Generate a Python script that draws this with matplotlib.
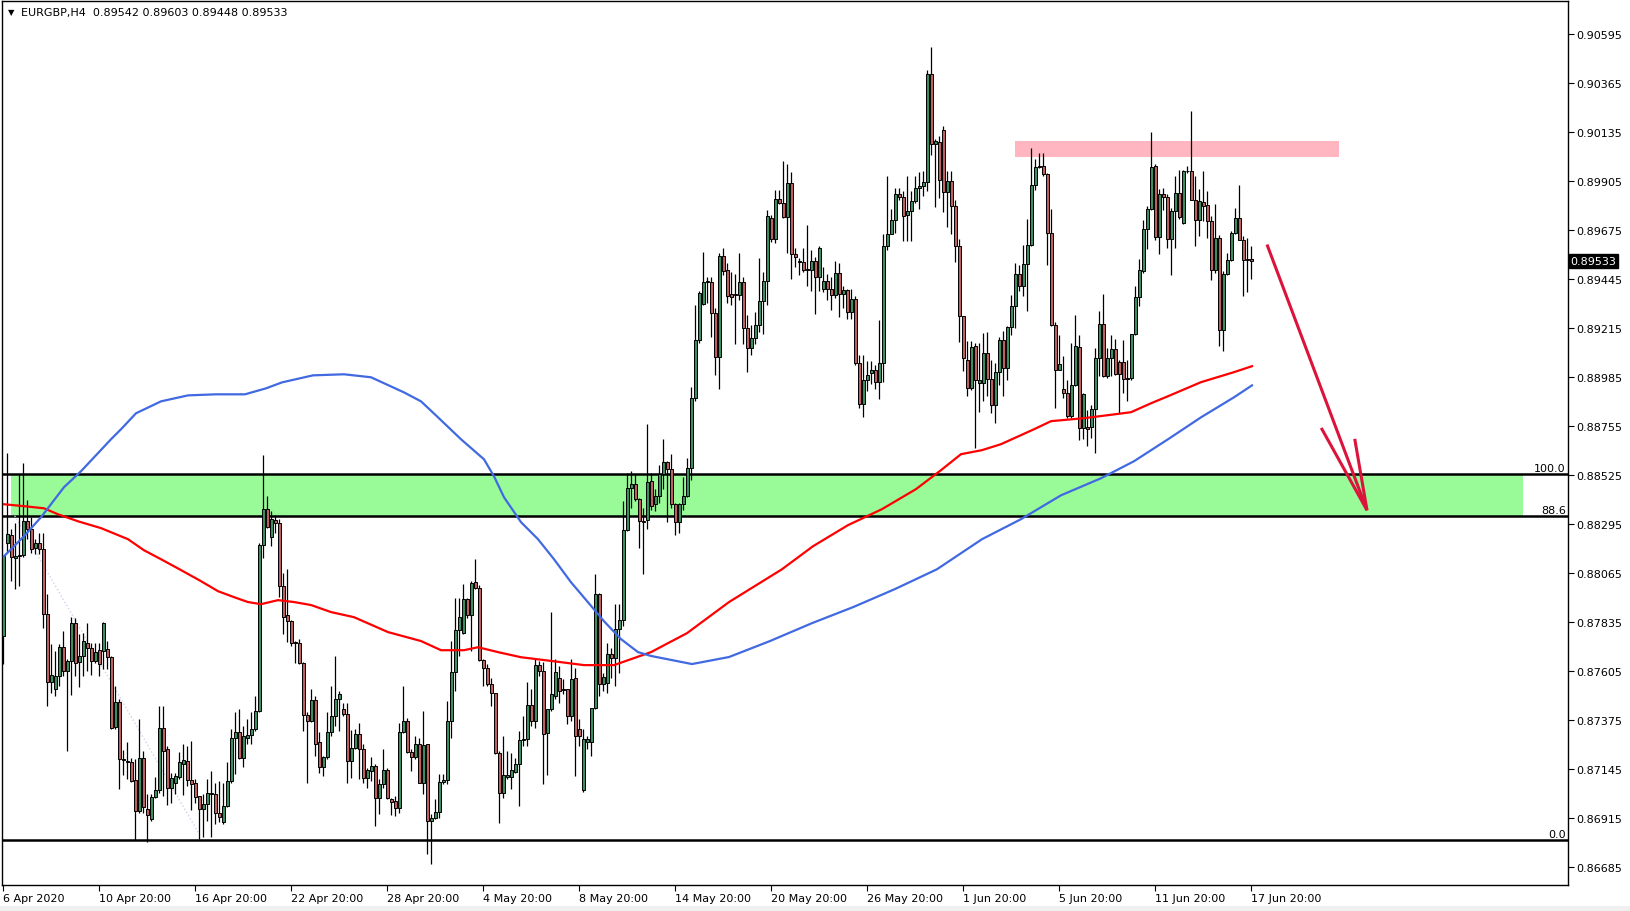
import numpy as np
import matplotlib
matplotlib.use('Agg')
import matplotlib.pyplot as plt
import matplotlib.transforms as mtrans
from matplotlib.patches import Rectangle

# EURGBP H4 bars, 6 Apr 2020 20:00 .. 17 Jun 2020 20:00
opens = [
    0.87771, 0.88205, 0.88244, 0.88139, 0.88145, 0.88150, 0.88309, 0.88272, 0.88186, 0.88205,
    0.88181, 0.87873, 0.87556, 0.87521, 0.87581, 0.87721, 0.87607, 0.87651, 0.87834, 0.87649,
    0.87678, 0.87740, 0.87712, 0.87654, 0.87706, 0.87700, 0.87709, 0.87670, 0.87344, 0.87462,
    0.87193, 0.87182, 0.87177, 0.87094, 0.86947, 0.87196, 0.86961, 0.86911, 0.87013, 0.87047,
    0.87341, 0.87240, 0.87055, 0.87083, 0.87110, 0.87169, 0.87185, 0.87094, 0.87083, 0.87021,
    0.86961, 0.86982, 0.87036, 0.87028, 0.86938, 0.86900, 0.86974, 0.87091, 0.87294, 0.87318,
    0.87196, 0.87294, 0.87305, 0.87333, 0.87419, 0.88197, 0.88369, 0.88237, 0.88314, 0.88303,
    0.88003, 0.87868, 0.87842, 0.87743, 0.87740, 0.87646, 0.87399, 0.87372, 0.87471, 0.87271,
    0.87154, 0.87201, 0.87320, 0.87395, 0.87477, 0.87430, 0.87406, 0.87184, 0.87247, 0.87309,
    0.87239, 0.87106, 0.87138, 0.87161, 0.87012, 0.87075, 0.87141, 0.87004, 0.86998, 0.86965,
    0.87322, 0.87372, 0.87227, 0.87205, 0.87266, 0.87083, 0.87263, 0.86903, 0.86918, 0.86945,
    0.87087, 0.87095, 0.87372, 0.87603, 0.87797, 0.87786, 0.87946, 0.87869, 0.88024, 0.87998,
    0.87657, 0.87619, 0.87544, 0.87502, 0.87223, 0.87036, 0.87111, 0.87111, 0.87133, 0.87169,
    0.87283, 0.87286, 0.87445, 0.87372, 0.87633, 0.87607, 0.87317, 0.87427, 0.87489, 0.87575,
    0.87517, 0.87524, 0.87395, 0.87575, 0.87333, 0.87048, 0.87273, 0.87273, 0.87435, 0.87966,
    0.87544, 0.87552, 0.87688, 0.87669, 0.87802, 0.87844, 0.88267, 0.88464, 0.88486, 0.88412,
    0.88310, 0.88313, 0.88498, 0.88392, 0.88429, 0.88529, 0.88585, 0.88555, 0.88392, 0.88308,
    0.88388, 0.88429, 0.88558, 0.88889, 0.89159, 0.89330, 0.89430, 0.89430, 0.89285, 0.89078,
    0.89556, 0.89489, 0.89378, 0.89370, 0.89373, 0.89430, 0.89215, 0.89123, 0.89168, 0.89228,
    0.89341, 0.89438, 0.89734, 0.89632, 0.89821, 0.89805, 0.89737, 0.89898, 0.89564, 0.89532,
    0.89527, 0.89490, 0.89487, 0.89532, 0.89457, 0.89398, 0.89438, 0.89398, 0.89373, 0.89475,
    0.89377, 0.89393, 0.89290, 0.89352, 0.89054, 0.88860, 0.88970, 0.89005, 0.89018, 0.88962,
    0.89050, 0.89603, 0.89659, 0.89724, 0.89845, 0.89829, 0.89745, 0.89764, 0.89810, 0.89874,
    0.89882, 0.89903, 0.90410, 0.90079, 0.90087, 0.90144, 0.89855, 0.89906, 0.89790, 0.89600,
    0.89271, 0.89068, 0.88935, 0.89131, 0.88959, 0.88959, 0.89099, 0.88977, 0.88857, 0.89010,
    0.89159, 0.89029, 0.89220, 0.89318, 0.89472, 0.89415, 0.89517, 0.89608, 0.89889, 0.89972,
    0.89978, 0.89941, 0.89662, 0.89231, 0.89021, 0.88930, 0.88912, 0.88802, 0.88951, 0.89128,
    0.88748, 0.88751, 0.88751, 0.88837, 0.89076, 0.89237, 0.88990, 0.89076, 0.89118, 0.89056,
    0.89056, 0.88977, 0.88982, 0.89189, 0.89362, 0.89482, 0.89681, 0.89775, 0.89975, 0.89642,
    0.89847, 0.89831, 0.89636, 0.89767, 0.89850, 0.89709, 0.89952, 0.89955, 0.89819, 0.89722,
    0.89808, 0.89793, 0.89720, 0.89487, 0.89639, 0.89206, 0.89472, 0.89537, 0.89662, 0.89733,
    0.89631, 0.89534, 0.89542,
]
highs = [
    0.88150, 0.88628, 0.88272, 0.88303, 0.88530, 0.88581, 0.88409, 0.88327, 0.88225, 0.88256,
    0.88256, 0.87967, 0.87733, 0.87700, 0.87732, 0.87795, 0.87662, 0.87860, 0.87854, 0.87780,
    0.87787, 0.87834, 0.87740, 0.87740, 0.87740, 0.87837, 0.87748, 0.87677, 0.87537, 0.87474,
    0.87236, 0.87271, 0.87200, 0.87193, 0.87380, 0.87232, 0.87028, 0.87028, 0.87107, 0.87443,
    0.87443, 0.87255, 0.87130, 0.87130, 0.87224, 0.87263, 0.87255, 0.87279, 0.87099, 0.87021,
    0.87028, 0.87099, 0.87138, 0.87083, 0.87091, 0.87083, 0.87177, 0.87333, 0.87412, 0.87427,
    0.87349, 0.87380, 0.87412, 0.87490, 0.88209, 0.88619, 0.88428, 0.88358, 0.88338, 0.88319,
    0.88068, 0.88084, 0.87845, 0.87748, 0.87756, 0.87650, 0.87412, 0.87521, 0.87490, 0.87318,
    0.87208, 0.87412, 0.87536, 0.87677, 0.87513, 0.87458, 0.87458, 0.87328, 0.87333, 0.87364,
    0.87263, 0.87153, 0.87205, 0.87172, 0.87098, 0.87239, 0.87153, 0.87009, 0.87020, 0.87364,
    0.87536, 0.87388, 0.87239, 0.87302, 0.87294, 0.87419, 0.87263, 0.86934, 0.87004, 0.87122,
    0.87122, 0.87466, 0.87747, 0.87951, 0.87951, 0.88013, 0.87951, 0.88029, 0.88131, 0.88009,
    0.87661, 0.87638, 0.87575, 0.87505, 0.87231, 0.87302, 0.87231, 0.87223, 0.87200, 0.87325,
    0.87395, 0.87555, 0.87520, 0.87661, 0.87653, 0.87649, 0.87430, 0.87883, 0.87661, 0.87630,
    0.87567, 0.87524, 0.87661, 0.87622, 0.87380, 0.87333, 0.87302, 0.87435, 0.88060, 0.87971,
    0.87599, 0.87740, 0.87716, 0.87919, 0.87919, 0.88404, 0.88537, 0.88545, 0.88532, 0.88420,
    0.88373, 0.88764, 0.88534, 0.88461, 0.88574, 0.88695, 0.88590, 0.88627, 0.88396, 0.88396,
    0.88517, 0.88606, 0.88937, 0.89325, 0.89390, 0.89575, 0.89457, 0.89454, 0.89309, 0.89570,
    0.89591, 0.89519, 0.89478, 0.89470, 0.89567, 0.89454, 0.89277, 0.89228, 0.89293, 0.89543,
    0.89478, 0.89769, 0.89745, 0.89866, 0.89866, 0.89998, 0.89987, 0.89947, 0.89591, 0.89543,
    0.89591, 0.89701, 0.89583, 0.89551, 0.89600, 0.89503, 0.89470, 0.89454, 0.89532, 0.89519,
    0.89414, 0.89398, 0.89398, 0.89365, 0.89091, 0.89091, 0.89063, 0.89063, 0.89042, 0.89256,
    0.89659, 0.89931, 0.89777, 0.89871, 0.89874, 0.89858, 0.89931, 0.89858, 0.89931, 0.89947,
    0.89955, 0.90426, 0.90536, 0.90103, 0.90116, 0.90165, 0.89955, 0.89955, 0.89819, 0.89634,
    0.89274, 0.89154, 0.89154, 0.89146, 0.89146, 0.89193, 0.89196, 0.89068, 0.89053, 0.89174,
    0.89201, 0.89225, 0.89373, 0.89522, 0.89514, 0.89608, 0.89728, 0.90061, 0.90010, 0.90038,
    0.90038, 0.89944, 0.89777, 0.89243, 0.89185, 0.89087, 0.88971, 0.89146, 0.89279, 0.89185,
    0.88909, 0.88833, 0.88857, 0.89123, 0.89295, 0.89378, 0.89123, 0.89185, 0.89165, 0.89068,
    0.89162, 0.89068, 0.89190, 0.89415, 0.89540, 0.89725, 0.89788, 0.90136, 0.89988, 0.89869,
    0.89874, 0.89847, 0.89780, 0.89928, 0.89960, 0.89960, 0.89975, 0.90236, 0.89928, 0.89869,
    0.89952, 0.89858, 0.89741, 0.89800, 0.89655, 0.89483, 0.89569, 0.89670, 0.89780, 0.89889,
    0.89647, 0.89639, 0.89603,
]
lows = [
    0.87638, 0.88162, 0.88029, 0.87993, 0.88006, 0.88140, 0.88225, 0.88159, 0.88155, 0.88155,
    0.87806, 0.87443, 0.87505, 0.87490, 0.87537, 0.87584, 0.87232, 0.87494, 0.87581, 0.87529,
    0.87581, 0.87607, 0.87588, 0.87646, 0.87584, 0.87615, 0.87615, 0.87333, 0.87333, 0.87052,
    0.87119, 0.87099, 0.87085, 0.86814, 0.86942, 0.86942, 0.86805, 0.86903, 0.87010, 0.87036,
    0.87021, 0.86977, 0.86989, 0.87028, 0.87099, 0.87025, 0.87068, 0.86953, 0.86989, 0.86817,
    0.86825, 0.86903, 0.86825, 0.86888, 0.86896, 0.86888, 0.86970, 0.87083, 0.87122, 0.87193,
    0.87154, 0.87263, 0.87263, 0.87325, 0.87412, 0.88139, 0.88276, 0.88194, 0.88256, 0.87956,
    0.87779, 0.87743, 0.87724, 0.87646, 0.87638, 0.87326, 0.87080, 0.87365, 0.87208, 0.87130,
    0.87115, 0.87193, 0.87302, 0.87349, 0.87325, 0.87395, 0.87083, 0.87106, 0.87239, 0.87098,
    0.87083, 0.87059, 0.87091, 0.86879, 0.86934, 0.87059, 0.87004, 0.86931, 0.86926, 0.86942,
    0.87317, 0.87223, 0.87137, 0.87192, 0.87083, 0.87028, 0.86746, 0.86700, 0.86910, 0.86918,
    0.87075, 0.87075, 0.87294, 0.87513, 0.87677, 0.87778, 0.87857, 0.87700, 0.87990, 0.87654,
    0.87536, 0.87536, 0.87442, 0.87216, 0.86895, 0.87012, 0.87098, 0.87051, 0.87130, 0.86973,
    0.87255, 0.87255, 0.87349, 0.87341, 0.87583, 0.87075, 0.87117, 0.87420, 0.87474, 0.87458,
    0.87497, 0.87356, 0.87372, 0.87114, 0.87255, 0.87040, 0.87239, 0.87208, 0.87427, 0.87489,
    0.87513, 0.87505, 0.87575, 0.87536, 0.87599, 0.87818, 0.88264, 0.88373, 0.88404, 0.88185,
    0.88060, 0.88274, 0.88364, 0.88356, 0.88396, 0.88461, 0.88308, 0.88372, 0.88246, 0.88256,
    0.88364, 0.88424, 0.88501, 0.88873, 0.89147, 0.89325, 0.89333, 0.89172, 0.88994, 0.88929,
    0.89467, 0.89333, 0.89325, 0.89139, 0.89349, 0.89139, 0.89010, 0.89091, 0.89139, 0.89196,
    0.89188, 0.89325, 0.89619, 0.89616, 0.89798, 0.89732, 0.89567, 0.89446, 0.89503, 0.89467,
    0.89478, 0.89414, 0.89390, 0.89280, 0.89390, 0.89386, 0.89349, 0.89301, 0.89357, 0.89269,
    0.89309, 0.89260, 0.89260, 0.89042, 0.88841, 0.88800, 0.88921, 0.88954, 0.88929, 0.88881,
    0.88962, 0.89583, 0.89656, 0.89664, 0.89818, 0.89624, 0.89624, 0.89624, 0.89801, 0.89777,
    0.89834, 0.89858, 0.90028, 0.89785, 0.89826, 0.89761, 0.89688, 0.89656, 0.89525, 0.89149,
    0.89013, 0.88896, 0.88927, 0.88654, 0.88821, 0.88873, 0.88896, 0.88818, 0.88771, 0.88951,
    0.88896, 0.88974, 0.89185, 0.89217, 0.89389, 0.89365, 0.89295, 0.89600, 0.89866, 0.89967,
    0.89928, 0.89514, 0.89225, 0.88841, 0.89018, 0.88888, 0.88795, 0.88794, 0.88943, 0.88690,
    0.88693, 0.88661, 0.88701, 0.88630, 0.88990, 0.88985, 0.88982, 0.88990, 0.88998, 0.88818,
    0.88912, 0.88873, 0.88974, 0.89185, 0.89318, 0.89475, 0.89587, 0.89772, 0.89631, 0.89565,
    0.89772, 0.89592, 0.89467, 0.89592, 0.89728, 0.89706, 0.89944, 0.89816, 0.89600, 0.89647,
    0.89717, 0.89639, 0.89443, 0.89475, 0.89134, 0.89107, 0.89467, 0.89530, 0.89659, 0.89628,
    0.89368, 0.89384, 0.89448,
]
closes = [
    0.88147, 0.88248, 0.88142, 0.88145, 0.88150, 0.88309, 0.88272, 0.88181, 0.88205, 0.88181,
    0.87873, 0.87556, 0.87587, 0.87584, 0.87721, 0.87607, 0.87651, 0.87834, 0.87646, 0.87678,
    0.87746, 0.87712, 0.87654, 0.87696, 0.87638, 0.87834, 0.87670, 0.87341, 0.87462, 0.87193,
    0.87190, 0.87177, 0.87091, 0.86947, 0.87196, 0.86966, 0.86930, 0.87013, 0.87047, 0.87341,
    0.87232, 0.87055, 0.87102, 0.87115, 0.87177, 0.87188, 0.87094, 0.87078, 0.87013, 0.86961,
    0.86982, 0.87036, 0.87028, 0.86938, 0.86920, 0.86974, 0.87091, 0.87294, 0.87318, 0.87196,
    0.87302, 0.87305, 0.87333, 0.87419, 0.88197, 0.88366, 0.88284, 0.88319, 0.88300, 0.88003,
    0.87862, 0.87842, 0.87740, 0.87737, 0.87646, 0.87399, 0.87372, 0.87471, 0.87263, 0.87154,
    0.87201, 0.87318, 0.87395, 0.87477, 0.87497, 0.87406, 0.87184, 0.87247, 0.87309, 0.87239,
    0.87106, 0.87142, 0.87161, 0.87012, 0.87075, 0.87141, 0.87009, 0.86993, 0.86965, 0.87322,
    0.87372, 0.87227, 0.87205, 0.87263, 0.87083, 0.87258, 0.86903, 0.86918, 0.86945, 0.87087,
    0.87095, 0.87372, 0.87603, 0.87797, 0.87861, 0.87946, 0.87869, 0.88018, 0.87998, 0.87657,
    0.87619, 0.87544, 0.87502, 0.87223, 0.87036, 0.87117, 0.87117, 0.87141, 0.87169, 0.87283,
    0.87289, 0.87445, 0.87372, 0.87633, 0.87607, 0.87313, 0.87427, 0.87497, 0.87603, 0.87513,
    0.87524, 0.87395, 0.87567, 0.87302, 0.87302, 0.87289, 0.87289, 0.87435, 0.87966, 0.87544,
    0.87580, 0.87688, 0.87669, 0.87802, 0.87844, 0.88267, 0.88464, 0.88486, 0.88412, 0.88310,
    0.88306, 0.88495, 0.88381, 0.88429, 0.88529, 0.88585, 0.88555, 0.88392, 0.88308, 0.88388,
    0.88429, 0.88558, 0.88889, 0.89159, 0.89382, 0.89430, 0.89435, 0.89288, 0.89078, 0.89556,
    0.89486, 0.89365, 0.89364, 0.89378, 0.89430, 0.89215, 0.89123, 0.89168, 0.89228, 0.89341,
    0.89438, 0.89740, 0.89632, 0.89821, 0.89805, 0.89737, 0.89898, 0.89564, 0.89551, 0.89527,
    0.89490, 0.89495, 0.89532, 0.89457, 0.89590, 0.89438, 0.89398, 0.89373, 0.89475, 0.89377,
    0.89393, 0.89290, 0.89352, 0.89054, 0.88860, 0.88970, 0.88997, 0.89018, 0.88962, 0.89050,
    0.89603, 0.89659, 0.89721, 0.89845, 0.89829, 0.89740, 0.89764, 0.89810, 0.89874, 0.89882,
    0.89903, 0.90410, 0.90079, 0.90092, 0.89911, 0.89855, 0.89906, 0.89790, 0.89600, 0.89271,
    0.89076, 0.88935, 0.89128, 0.88974, 0.88974, 0.89099, 0.88977, 0.88857, 0.89010, 0.89162,
    0.89029, 0.89220, 0.89318, 0.89472, 0.89415, 0.89517, 0.89608, 0.89889, 0.89972, 0.89978,
    0.89941, 0.89662, 0.89229, 0.89021, 0.89045, 0.88912, 0.88802, 0.88951, 0.89131, 0.88748,
    0.88907, 0.88743, 0.88837, 0.89076, 0.89237, 0.88990, 0.89076, 0.89118, 0.89001, 0.89001,
    0.88977, 0.88982, 0.89189, 0.89362, 0.89490, 0.89681, 0.89775, 0.89972, 0.89642, 0.89845,
    0.89831, 0.89636, 0.89767, 0.89850, 0.89736, 0.89952, 0.89955, 0.89819, 0.89722, 0.89811,
    0.89791, 0.89717, 0.89487, 0.89639, 0.89206, 0.89472, 0.89537, 0.89662, 0.89733, 0.89631,
    0.89534, 0.89540, 0.89533,
]

# time axis labels (one every 24 H4 bars)
label_bars = [0, 24, 48, 72, 96, 120, 144, 168, 192, 216, 240, 264, 288, 312]
date_labels = ['6 Apr 2020', '10 Apr 20:00', '16 Apr 20:00', '22 Apr 20:00', '28 Apr 20:00',
               '4 May 20:00', '8 May 20:00', '14 May 20:00', '20 May 20:00', '26 May 20:00',
               '1 Jun 20:00', '5 Jun 20:00', '11 Jun 20:00', '17 Jun 20:00']

price_ticks = [0.86685, 0.86915, 0.87145, 0.87375, 0.87605, 0.87835, 0.88065, 0.88295, 0.88525,
               0.88755, 0.88985, 0.89215, 0.89445, 0.89675, 0.89905, 0.90135, 0.90365, 0.90595]

# moving averages, sampled along the curves
red_ma_bar = [0.25, 5.25, 10.25, 13.75, 18.75, 24.5, 31.25, 35.25, 39.5, 44.5, 49.5, 53.75, 57.75,
              61.25, 64.5, 68.75, 72.75, 77, 82, 87.75, 96.25, 104.5, 109.5, 115.25, 118.75, 123.75,
              129.5, 137.75, 145.25, 152.75, 157, 162, 171, 181.5, 194.75, 202.5, 211.25, 219.75,
              228.25, 234.5, 239.5, 244.75, 249.5, 257.75, 262, 270.25, 274.5, 282, 287, 291.25,
              299.5, 307.75, 312.25]
red_ma_val = [0.88389, 0.88380, 0.88370, 0.88342, 0.88309, 0.88277, 0.88225, 0.88173, 0.88131,
              0.88080, 0.88028, 0.87981, 0.87953, 0.87930, 0.87920, 0.87939, 0.87930, 0.87916,
              0.87883, 0.87859, 0.87789, 0.87747, 0.87704, 0.87704, 0.87718, 0.87695, 0.87671,
              0.87652, 0.87634, 0.87634, 0.87662, 0.87695, 0.87784, 0.87930, 0.88084, 0.88192,
              0.88291, 0.88366, 0.88460, 0.88549, 0.88624, 0.88643, 0.88671, 0.88741, 0.88779,
              0.88793, 0.88803, 0.88821, 0.88863, 0.88896, 0.88962, 0.89009, 0.89037]
blue_ma_bar = [0.25, 5.25, 9.5, 15.25, 19.5, 27, 29.5, 33.25, 39.5, 46.25, 53.25, 60.5, 65.75, 69.75,
               77.5, 85.25, 92, 100.25, 104.5, 108.75, 114.5, 120.25, 122.75, 125.25, 129.5, 133.75,
               137.75, 142, 146.25, 150.25, 154.5, 158.75, 162, 172.25, 181.5, 191.75, 202.25, 212.5,
               223, 233.5, 244.75, 254.5, 264.5, 274.5, 282.75, 291.25, 299.5, 307.75, 312.25]
blue_ma_val = [0.88145, 0.88239, 0.88328, 0.88469, 0.88544, 0.88694, 0.88741, 0.88816, 0.88872,
               0.88900, 0.88905, 0.88905, 0.88933, 0.88961, 0.88994, 0.88999, 0.88985, 0.88914,
               0.88872, 0.88797, 0.88694, 0.88600, 0.88520, 0.88422, 0.88305, 0.88225, 0.88131,
               0.88023, 0.87929, 0.87840, 0.87756, 0.87695, 0.87677, 0.87639, 0.87672, 0.87747,
               0.87831, 0.87906, 0.87991, 0.88084, 0.88225, 0.88319, 0.88431, 0.88511, 0.88591,
               0.88694, 0.88797, 0.88891, 0.88947]

# drawn objects
fib_levels = [0.88532, 0.88336, 0.86815]
fib_names = ['100.0', '88.6', '0.0']
zone_bars = [2, 380]
zone_prices = [0.88336, 0.88532]
resist_bars = [253, 334]
resist_prices = [0.90019, 0.90094]
trend_bars = [2, 48.75]
trend_prices = [0.88365, 0.86851]
arrow_bars = [316, 341]
arrow_prices = [0.89608, 0.88361]
head_bars = [329.75, 341, 338]
head_prices = [0.88741, 0.88361, 0.88689]
last_price = 0.89533

bull = '#3A8F62'
bear = '#C0605E'

fig = plt.figure(figsize=(16.3, 9.12), dpi=100)
fig.patch.set_facecolor('white')
ax = fig.add_axes([2 / 1630, 26 / 912, 1566 / 1630, 884 / 912])
ax.set_xlim(-0.25, 391.25)
ax.set_ylim(0.86602, 0.90751)

# zones and levels
ax.add_patch(Rectangle((zone_bars[0], zone_prices[0]), zone_bars[1] - zone_bars[0],
                       zone_prices[1] - zone_prices[0], facecolor='#98FB98', edgecolor='none', zorder=1))
ax.add_patch(Rectangle((resist_bars[0], resist_prices[0]), resist_bars[1] - resist_bars[0],
                       resist_prices[1] - resist_prices[0], facecolor='#FFB6C1', edgecolor='none', zorder=1))
trans = mtrans.blended_transform_factory(ax.transAxes, ax.transData)
for lvl, name in zip(fib_levels, fib_names):
    ax.axhline(lvl, color='black', lw=1.8, zorder=2)
    ax.text(0.9985, lvl + 0.00004, name, transform=trans, ha='right', va='bottom', fontsize=8, zorder=6)
ax.plot(trend_bars, trend_prices, color='#D0D0EE', ls=':', lw=1.0, zorder=2)

# candles
idx = np.arange(len(closes))
o = np.array(opens)
c = np.array(closes)
h = np.array(highs)
l = np.array(lows)
ax.vlines(idx, l, h, colors='black', linewidth=0.9, zorder=3)
up = c >= o
bottom = np.minimum(o, c)
height = np.maximum(np.abs(c - o), 0.00002)
ax.bar(idx[up], height[up], bottom=bottom[up], width=0.75, color=bull,
       edgecolor='black', linewidth=0.7, zorder=4)
ax.bar(idx[~up], height[~up], bottom=bottom[~up], width=0.75, color=bear,
       edgecolor='black', linewidth=0.7, zorder=4)

# moving averages
ax.plot(red_ma_bar, red_ma_val, color='#FF0000', lw=1.6, zorder=5)
ax.plot(blue_ma_bar, blue_ma_val, color='#4169E1', lw=1.6, zorder=5)

# forecast arrow
ax.plot(arrow_bars, arrow_prices, color='#DC143C', lw=2.2, solid_capstyle='butt', zorder=6)
ax.plot(head_bars, head_prices, color='#DC143C', lw=2.2, solid_joinstyle='miter', zorder=6)

# axes styling
for sp in ax.spines.values():
    sp.set_color('black')
    sp.set_linewidth(1.0)
ax.yaxis.tick_right()
ax.set_yticks(price_ticks)
ax.set_yticklabels([f'{v:.5f}' for v in price_ticks])
ax.set_xticks(label_bars)
ax.set_xticklabels(date_labels, ha='left')
ax.tick_params(axis='both', direction='out', length=4, width=0.8, labelsize=8, pad=2, colors='black')

ax.text(1.0016, last_price, f'{last_price:.5f}', transform=trans, ha='left', va='center',
        fontsize=8, color='white', clip_on=False, zorder=7,
        bbox=dict(boxstyle='square,pad=0.18', facecolor='black', edgecolor='black'))

fig.text(8 / 1630, 1 - 13 / 912, '\u25bc', fontsize=6, va='center')
fig.text(21 / 1630, 1 - 13 / 912, 'EURGBP,H4  0.89542 0.89603 0.89448 0.89533', fontsize=8, va='center')
fig.patches.append(Rectangle((0, 0), 1, 5 / 912, transform=fig.transFigure,
                             facecolor='#F0F0F0', edgecolor='none'))

fig.savefig('out.png', dpi=100)
